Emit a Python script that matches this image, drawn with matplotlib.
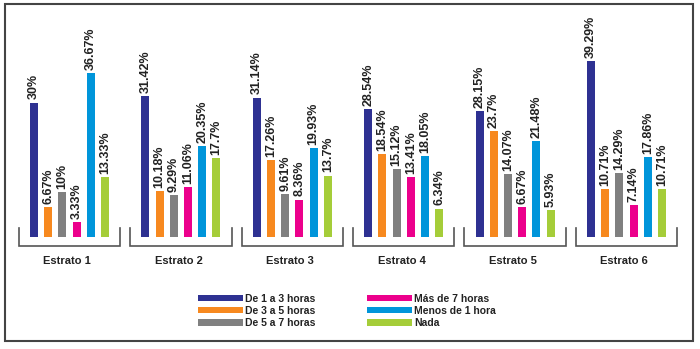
import matplotlib
matplotlib.use("Agg")
import matplotlib.pyplot as plt
import numpy as np

plt.rcParams['font.family'] = ['Liberation Sans', 'DejaVu Sans']

estratos = ['Estrato 1', 'Estrato 2', 'Estrato 3', 'Estrato 4', 'Estrato 5', 'Estrato 6']
categorias = ['De 1 a 3 horas', 'De 3 a 5 horas', 'De 5 a 7 horas',
              'Más de 7 horas', 'Menos de 1 hora', 'Nada']
colores = ['#2E3192', '#F7891F', '#808080', '#EC008C', '#0095DA', '#A5CD39']

de_1_a_3 = [30, 31.42, 31.14, 28.54, 28.15, 39.29]
de_3_a_5 = [6.67, 10.18, 17.26, 18.54, 23.7, 10.71]
de_5_a_7 = [10, 9.29, 9.61, 15.12, 14.07, 14.29]
mas_de_7 = [3.33, 11.06, 8.36, 13.41, 6.67, 7.14]
menos_1 = [36.67, 20.35, 19.93, 18.05, 21.48, 17.86]
nada = [13.33, 17.7, 13.7, 6.34, 5.93, 10.71]
series = [de_1_a_3, de_3_a_5, de_5_a_7, mas_de_7, menos_1, nada]

fig = plt.figure(figsize=(7, 3.49), dpi=100)
ax = fig.add_axes([0, 0.3209, 1, 0.6418])

x = np.arange(len(estratos))
paso = 0.1275
ancho = 0.072

for i, (vals, col, lab) in enumerate(zip(series, colores, categorias)):
    pos = x + (i - 2.5) * paso
    ax.bar(pos, vals, width=ancho, color=col, label=lab)
    for p, v in zip(pos, vals):
        ax.text(p, v + 0.7, '%g%%' % v, rotation=90, ha='center', va='bottom',
                fontsize=9, fontweight='bold', color='#222222')

# corchetes de cada estrato
for g in x:
    izq, der = g - 0.455, g + 0.455
    ax.plot([izq, izq, der, der], [2, -2.1, -2.1, 2], color='#555555', lw=1.2,
            clip_on=False, solid_joinstyle='miter')
    ax.text(g - 0.02, -4.3, estratos[g], ha='center', va='top', fontsize=8,
            fontweight='bold', color='#222222', clip_on=False)

ax.set_xlim(-0.624, 5.66)
ax.set_ylim(0, 50)
ax.axis('off')

leg = fig.legend(loc='center', bbox_to_anchor=(347 / 700, 1 - 311 / 349), ncol=2,
                 frameon=False, fontsize=7.5, handlelength=4.3, handleheight=0.55,
                 handletextpad=0.2, columnspacing=5.0, labelspacing=0.2)
for t in leg.get_texts():
    t.set_fontweight('bold')
    t.set_color('#222222')

borde = plt.Rectangle((5 / 700, 1 - 341 / 349), 688 / 700, 337 / 349,
                      transform=fig.transFigure, fill=False, ec='#444444', lw=1.5)
fig.patches.append(borde)

fig.savefig('out.png', dpi=100, facecolor='white')
